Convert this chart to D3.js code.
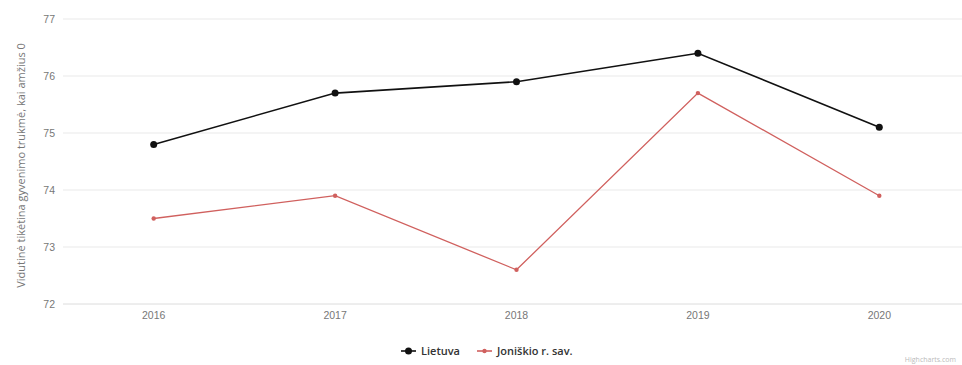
<!DOCTYPE html>
<html>
<head>
<meta charset="utf-8">
<script src="https://cdn.jsdelivr.net/npm/d3@7"></script>
<style>
  body { margin: 0; background: #fff; }
  svg { display: block; font-family: "Open Sans", "DejaVu Sans", sans-serif; }
</style>
</head>
<body>
<svg id="chart" width="962" height="365"></svg>
<script>
// Years on the x axis
const years = ["2016", "2017", "2018", "2019", "2020"];
// Life expectancy at birth
const lietuva = [74.8, 75.7, 75.9, 76.4, 75.1];
const joniskio = [73.5, 73.9, 72.6, 75.7, 73.9];
const yTicks = [72, 73, 74, 75, 76, 77];
const seriesNames = ["Lietuva", "Joniškio r. sav."];
const seriesColors = ["#111111", "#d0605e"];

const svg = d3.select("#chart");
const margin = { top: 19, right: 0, bottom: 61, left: 63 };
const W = 962, H = 365;

const x = d3.scaleBand().domain(years).range([margin.left, W + 8]);
const y = d3.scaleLinear().domain([72, 77]).range([H - margin.bottom, margin.top]);

// Horizontal gridlines
svg.append("g").selectAll("line").data(yTicks.slice(1)).join("line")
  .attr("x1", margin.left).attr("x2", W)
  .attr("y1", d => y(d)).attr("y2", d => y(d))
  .attr("stroke", "#e9e9e9").attr("stroke-width", 1);

// Y axis labels
const yAxis = svg.append("g")
  .attr("transform", `translate(${margin.left - 8},0)`)
  .call(d3.axisLeft(y).tickValues(yTicks).tickSize(0).tickFormat(d3.format("d")));
yAxis.select(".domain").remove();
yAxis.selectAll("text").attr("fill", "#777").attr("font-size", 10.5).attr("text-anchor", "end").attr("x", 0);

// X axis
const xAxis = svg.append("g")
  .attr("transform", `translate(0,${y(72)})`)
  .call(d3.axisBottom(x).tickSize(0).tickPadding(8));
xAxis.select(".domain").attr("stroke", "#dcdcdc").attr("d", `M${margin.left},0H${W}`);
xAxis.selectAll("text").attr("fill", "#777").attr("font-size", 10.5);

// Y axis title
svg.append("text")
  .attr("transform", `translate(25,${(margin.top + y(72)) / 2 + 4}) rotate(-90)`)
  .attr("text-anchor", "middle")
  .attr("fill", "#777").attr("font-size", 11)
  .text("Vidutinė tikėtina gyvenimo trukmė, kai amžius 0");

// Lines and markers
const line = d3.line().x((d, i) => x(years[i]) + x.bandwidth() / 2).y(d => y(d));
[lietuva, joniskio].forEach((vals, s) => {
  svg.append("path").datum(vals)
    .attr("d", line).attr("fill", "none")
    .attr("stroke", seriesColors[s]).attr("stroke-width", s === 0 ? 1.6 : 1.3);
  svg.append("g").selectAll("circle").data(vals).join("circle")
    .attr("cx", (d, i) => x(years[i]) + x.bandwidth() / 2)
    .attr("cy", d => y(d))
    .attr("r", s === 0 ? 3.5 : 2.2)
    .attr("fill", seriesColors[s]);
});

// Legend
const legend = svg.append("g").attr("transform", "translate(401,351)");
const legendX = [0, 76];
seriesNames.forEach((name, s) => {
  const g = legend.append("g").attr("transform", `translate(${legendX[s]},0)`);
  g.append("line").attr("x1", 0).attr("x2", 15).attr("y1", 0).attr("y2", 0)
    .attr("stroke", seriesColors[s]).attr("stroke-width", 1.6);
  g.append("circle").attr("cx", 7.5).attr("cy", 0).attr("r", s === 0 ? 3.5 : 2.2).attr("fill", seriesColors[s]);
  g.append("text").attr("x", 20).attr("y", 4)
    .attr("font-size", 11).attr("font-weight", 600).attr("fill", "#333")
    .text(name);
});

// Credit
svg.append("text").attr("x", 956).attr("y", 362).attr("text-anchor", "end")
  .attr("font-size", 7).attr("fill", "#bbb").text("Highcharts.com");
</script>
</body>
</html>
